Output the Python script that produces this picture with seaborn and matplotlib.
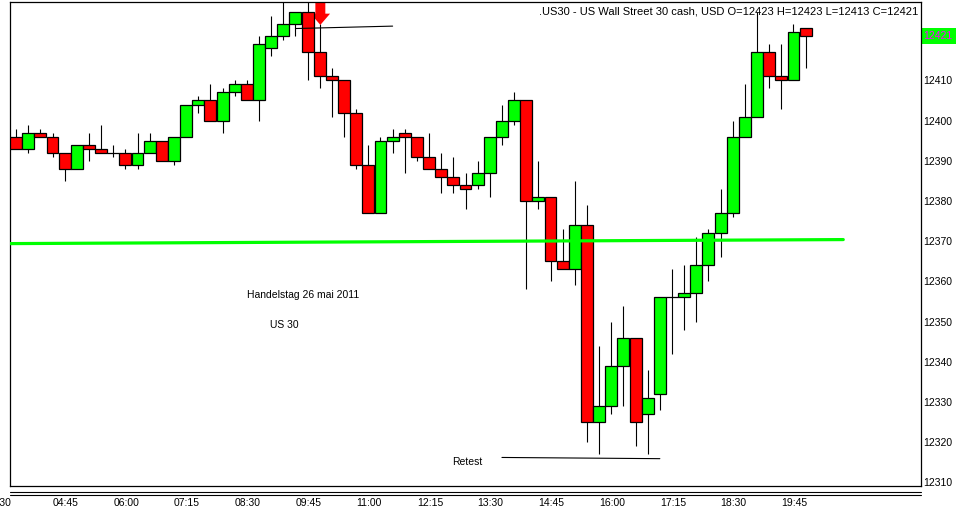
import pandas as pd
import seaborn as sns
import matplotlib.pyplot as plt
import matplotlib.transforms as mtransforms
from matplotlib.patches import Rectangle, Polygon
from matplotlib.lines import Line2D

# 15 minute candles, US30, 26 May 2011 (first candle 04:00)
opens = [12396, 12393, 12397, 12396, 12392, 12388, 12394, 12393, 12392, 12392,
         12389, 12392, 12395, 12390, 12396, 12404, 12405, 12400, 12407, 12409,
         12405, 12418, 12421, 12424, 12427, 12417, 12411, 12410, 12402, 12389,
         12377, 12395, 12397, 12396, 12391, 12388, 12386, 12384, 12384, 12387,
         12396, 12400, 12405, 12380, 12381, 12365, 12363, 12374, 12325, 12329,
         12339, 12346, 12327, 12332, 12356, 12356, 12357, 12364, 12372, 12377,
         12396, 12401, 12417, 12411, 12410, 12423]
highs = [12398, 12399, 12398, 12397, 12392, 12394, 12397, 12399, 12394, 12393,
         12397, 12397, 12395, 12396, 12404, 12406, 12409, 12408, 12410, 12410,
         12421, 12426, 12430, 12427, 12430, 12424, 12413, 12410, 12403, 12394,
         12396, 12398, 12398, 12396, 12397, 12392, 12391, 12387, 12390, 12396,
         12404, 12407, 12405, 12390, 12381, 12373, 12385, 12379, 12344, 12350,
         12354, 12346, 12338, 12356, 12363, 12364, 12371, 12373, 12383, 12400,
         12409, 12427, 12419, 12419, 12424, 12423]
lows = [12393, 12392, 12396, 12391, 12385, 12388, 12390, 12392, 12391, 12388,
        12388, 12392, 12390, 12389, 12396, 12402, 12400, 12397, 12406, 12405,
        12400, 12416, 12420, 12421, 12410, 12408, 12401, 12396, 12388, 12377,
        12377, 12392, 12387, 12390, 12388, 12382, 12382, 12378, 12383, 12381,
        12394, 12399, 12358, 12378, 12360, 12363, 12359, 12320, 12317, 12327,
        12329, 12319, 12317, 12328, 12342, 12348, 12350, 12360, 12366, 12376,
        12396, 12401, 12408, 12403, 12410, 12413]
closes = [12393, 12397, 12396, 12392, 12388, 12394, 12393, 12392, 12392, 12389,
          12392, 12395, 12390, 12396, 12404, 12405, 12400, 12407, 12409, 12405,
          12419, 12421, 12424, 12427, 12417, 12411, 12410, 12402, 12389, 12377,
          12395, 12396, 12396, 12391, 12388, 12386, 12384, 12383, 12387, 12396,
          12400, 12405, 12380, 12381, 12365, 12363, 12374, 12325, 12329, 12339,
          12346, 12325, 12331, 12356, 12356, 12357, 12364, 12372, 12377, 12396,
          12401, 12417, 12411, 12410, 12422, 12421]

time_labels = ["03:30", "04:45", "06:00", "07:15", "08:30", "09:45", "11:00", "12:15",
               "13:30", "14:45", "16:00", "17:15", "18:30", "19:45"]
time_label_pos = [-2.5, 3, 8, 13, 18, 23, 28, 33, 38, 43, 48, 53, 58, 63]

price_ticks = [12310, 12320, 12330, 12340, 12350, 12360, 12370, 12380, 12390, 12400, 12410]
last_price = 12421

# drawn objects (candle index, price)
support_x = [-0.5, 68.1]
support_y = [12369.4, 12370.4]
retest_x = [40.0, 53.0]
retest_y = [12316.2, 12315.9]
top_line_x = [23.0, 31.0]
top_line_y = [12422.9, 12423.5]
arrow_x, arrow_top, arrow_neck, arrow_tip = 25.05, 12429.6, 12426.6, 12423.8

notes = [("Handelstag 26 mai 2011", 19.0, 12356.6),
         ("US 30", 20.9, 12349.1),
         ("Retest", 35.9, 12315.1)]
title_text = ".US30 - US Wall Street 30 cash, USD O=12423 H=12423 L=12413 C=12421"

sns.set_style("white")
plt.rcParams['font.family'] = ['Liberation Sans', 'DejaVu Sans']

df = pd.DataFrame({"open": opens, "high": highs, "low": lows, "close": closes})
df["idx"] = range(len(df))
df["body_lo"] = df[["open", "close"]].min(axis=1)
df["body_h"] = (df["close"] - df["open"]).abs()
df["color"] = ["#00ff00" if c > o else "#ff0000" for o, c in zip(df["open"], df["close"])]

W, H = 962, 514
fig = plt.figure(figsize=(W / 100, H / 100), dpi=100)
ax = fig.add_axes([10 / W, 28 / H, 911 / W, 484 / H])
ax.set_xlim(-0.5, 74.5)
ax.set_ylim(12309.1, 12429.5)

# wicks, arrow, bodies
ax.vlines(df["idx"], df["low"], df["high"], color="black", linewidth=0.8, zorder=1)
sx, hx = 0.41, 0.8
ax.add_patch(Polygon([(arrow_x - sx, arrow_top), (arrow_x + sx, arrow_top),
                      (arrow_x + sx, arrow_neck), (arrow_x + hx, arrow_neck),
                      (arrow_x, arrow_tip), (arrow_x - hx, arrow_neck),
                      (arrow_x - sx, arrow_neck)],
                     closed=True, facecolor="#ff0000", edgecolor="none", zorder=2))
ax.bar(df["idx"], df["body_h"], bottom=df["body_lo"], width=0.98,
       color=df["color"], edgecolor="black", linewidth=0.9, zorder=3)

# trend lines
sns.lineplot(x=support_x, y=support_y, ax=ax, color="#00ff00", linewidth=2.3, zorder=4)
sns.lineplot(x=retest_x, y=retest_y, ax=ax, color="black", linewidth=0.8, zorder=4)
sns.lineplot(x=top_line_x, y=top_line_y, ax=ax, color="black", linewidth=0.8, zorder=4)

for txt, x, y in notes:
    ax.text(x, y, txt, fontsize=7.5, ha="left", va="center", color="black")

ax.text(1 - 3 / 911, 1 - 4 / 484, title_text, transform=ax.transAxes,
        ha="right", va="top", fontsize=8, color="black")

# axes look
for s in ax.spines.values():
    s.set_color("black")
    s.set_linewidth(0.9)
ax.yaxis.tick_right()
ax.set_yticks(price_ticks)
ax.tick_params(axis="y", length=0, pad=1.5, labelsize=7.5, colors="black")
ax.set_xticks([])
ax.set_xlabel("")
ax.set_ylabel("")

xtr = ax.get_xaxis_transform()
for lab, pos in zip(time_labels, time_label_pos):
    ax.text(pos, -17 / 484, lab, transform=xtr, ha="left", va="center",
            fontsize=7.5, color="black", clip_on=False)

# last price box
btr = mtransforms.blended_transform_factory(ax.transAxes, ax.transData)
ax.add_patch(Rectangle((1 + 1 / 911, last_price - 2.0), 34 / 911, 4.0, transform=btr,
                       facecolor="#00ff00", edgecolor="none", clip_on=False))
ax.text(1 + 2.5 / 911, last_price, str(last_price), transform=btr, ha="left", va="center",
        fontsize=7.5, color="#ff00ff", clip_on=False)

# double separator line under the chart
for yy in (492.3, 495.3):
    fig.add_artist(Line2D([10 / W, 921 / W], [1 - yy / H, 1 - yy / H],
                          color="black", linewidth=0.8))

fig.savefig("out.png", dpi=100, facecolor="white")
